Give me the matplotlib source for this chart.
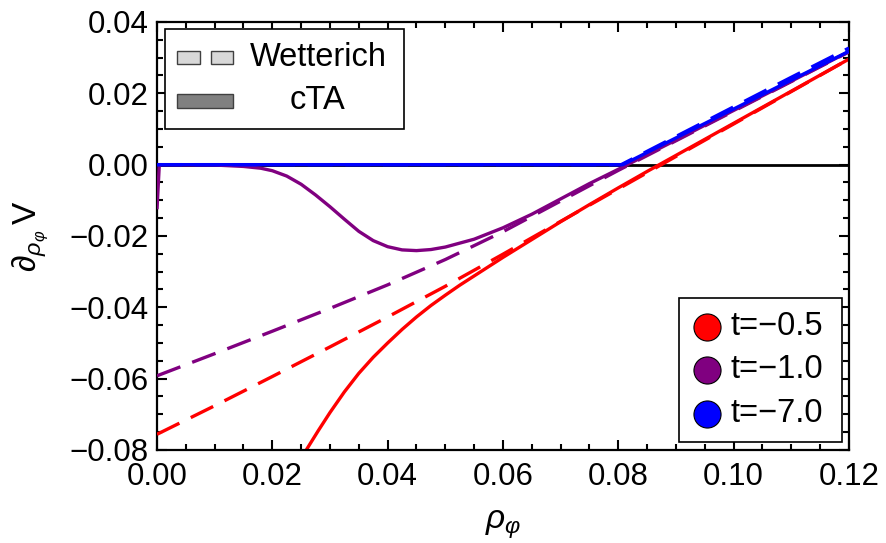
import matplotlib
matplotlib.use("Agg")
import matplotlib.pyplot as plt
from matplotlib.lines import Line2D
from matplotlib.patches import Rectangle
from matplotlib.ticker import MultipleLocator, FixedLocator, FixedFormatter

plt.rcParams['font.family'] = ['Liberation Sans', 'DejaVu Sans']
plt.rcParams['mathtext.fontset'] = 'custom'
plt.rcParams['mathtext.rm'] = 'Liberation Sans'
plt.rcParams['mathtext.it'] = 'Liberation Sans:italic'
plt.rcParams['mathtext.bf'] = 'Liberation Sans:bold'

# ---- data: derivative of the potential vs rho_phi ----
# Wetterich (dashed)
x_w_red = [0.0, 0.01, 0.02, 0.03, 0.04, 0.05, 0.06, 0.07, 0.08, 0.09, 0.10, 0.11, 0.12]
y_w_red = [-0.0756, -0.0676, -0.0594, -0.0511, -0.0427, -0.0341, -0.0251, -0.0159,
           -0.0068, 0.0023, 0.0114, 0.0205, 0.0296]
x_w_purple = [0.0, 0.01, 0.02, 0.03, 0.04, 0.05, 0.06, 0.07, 0.08, 0.09, 0.10, 0.11, 0.12]
y_w_purple = [-0.0592, -0.0530, -0.0467, -0.0403, -0.0337, -0.0266, -0.0188, -0.0102,
              -0.0016, 0.0067, 0.0150, 0.0233, 0.0316]
x_w_blue = [0.0, 0.0805, 0.09, 0.10, 0.11, 0.12]
y_w_blue = [0.0, 0.0, 0.0079, 0.0162, 0.0245, 0.0327]

# cTA (solid)
x_c_red = [0.024, 0.026, 0.028, 0.030, 0.0325, 0.035, 0.0375, 0.040, 0.0425, 0.045,
           0.0475, 0.050, 0.0525, 0.055, 0.0575, 0.060, 0.065, 0.070, 0.075, 0.080,
           0.085, 0.090, 0.10, 0.11, 0.12]
y_c_red = [-0.0856, -0.0797, -0.0745, -0.0695, -0.0637, -0.0585, -0.0540, -0.0500,
           -0.0462, -0.0427, -0.0395, -0.0366, -0.0338, -0.0312, -0.0286, -0.0260,
           -0.0210, -0.0160, -0.0112, -0.0065, -0.0019, 0.0026, 0.0116, 0.0206, 0.0296]
x_c_purple = [0.0, 0.0004, 0.010, 0.015, 0.018, 0.020, 0.0225, 0.025, 0.0275, 0.030,
              0.0325, 0.035, 0.0375, 0.040, 0.0425, 0.045, 0.0475, 0.050, 0.055,
              0.060, 0.065, 0.070, 0.075, 0.080, 0.090, 0.10, 0.11, 0.12]
y_c_purple = [-0.0125, 0.0, -0.0001, -0.0005, -0.0010, -0.0017, -0.0032, -0.0055,
              -0.0085, -0.0118, -0.0153, -0.0187, -0.0213, -0.0230, -0.0239, -0.0241,
              -0.0238, -0.0231, -0.0209, -0.0177, -0.0139, -0.0096, -0.0053, -0.0013,
              0.0069, 0.0152, 0.0234, 0.0317]
x_c_blue = [0.0, 0.0808, 0.09, 0.10, 0.11, 0.12]
y_c_blue = [0.0, 0.0, 0.0075, 0.0156, 0.0237, 0.0318]

series_labels = ["t=\u22120.5", "t=\u22121.0", "t=\u22127.0"]
series_colors = ["#ff0000", "#800080", "#0000ff"]
method_labels = ["Wetterich", "cTA"]

x_ticks = [0.00, 0.02, 0.04, 0.06, 0.08, 0.10, 0.12]
y_ticks = [-0.08, -0.06, -0.04, -0.02, 0.00, 0.02, 0.04]

# ---- figure ----
fig = plt.figure(figsize=(8.86, 5.43), dpi=100)
ax = fig.add_axes([0.1772, 0.1713, 0.7810, 0.7882])
ax.set_xlim(0, 0.12)
ax.set_ylim(-0.08, 0.04)

ax.axhline(0, color="black", lw=2.0, zorder=1)

lw = 2.4
dash = (7.5, 3.8)
solids = [(x_c_red, y_c_red), (x_c_purple, y_c_purple), (x_c_blue, y_c_blue)]
dashed = [(x_w_red, y_w_red), (x_w_purple, y_w_purple), (x_w_blue, y_w_blue)]
for i, c in enumerate(series_colors):
    ax.plot(*solids[i], color=c, lw=lw, zorder=2 + 2 * i, solid_capstyle="butt",
            solid_joinstyle="round")
    ax.plot(*dashed[i], color=c, lw=lw, dashes=dash, zorder=3 + 2 * i,
            dash_capstyle="butt")

# ticks
fmt = lambda v: f"{v:.2f}".replace("-", "\u2212")
ax.xaxis.set_major_locator(FixedLocator(x_ticks))
ax.xaxis.set_major_formatter(FixedFormatter([fmt(v) for v in x_ticks]))
ax.yaxis.set_major_locator(FixedLocator(y_ticks))
ax.yaxis.set_major_formatter(FixedFormatter([fmt(v) for v in y_ticks]))
ax.xaxis.set_minor_locator(MultipleLocator(0.005))
ax.yaxis.set_minor_locator(MultipleLocator(0.005))
ax.tick_params(which="both", direction="in", top=True, right=True, width=1.5,
               color="black")
ax.tick_params(which="major", length=7.5)
ax.tick_params(which="minor", length=4)
ax.tick_params(axis="x", labelsize=22.5, pad=9)
ax.tick_params(axis="y", labelsize=22.5, pad=6)
for s in ax.spines.values():
    s.set_linewidth(1.6)

ax.set_xlabel(r"$\rho_{\varphi}$", fontsize=24)
ax.xaxis.set_label_coords(0.5, -0.175)
ax.xaxis.label.set_va("center")
ax.set_ylabel(r"$\partial_{\rho_{\varphi}}\,\mathrm{V}$", fontsize=24)
ax.yaxis.set_label_coords(-0.183, 0.5)
ax.yaxis.label.set_va("center")

# ---- method legend (top left) ----
T = ax.transAxes
ax.add_patch(Rectangle((0.0116, 0.750), 0.345, 0.2336, transform=T, fc="white",
                       ec="black", lw=1.2, zorder=20))
sw_h = 13 / 428
for x0, w in [(177, 23), (211, 22)]:
    ax.add_patch(Rectangle(((x0 - 157) / 692, (450 - 64) / 428), w / 692, sw_h,
                           transform=T, fc="#d8d8d8", ec="#404040", lw=1.0, zorder=21))
ax.add_patch(Rectangle(((177 - 157) / 692, (450 - 108) / 428), 56 / 692, 14 / 428,
                       transform=T, fc="#808080", ec="#404040", lw=1.0, zorder=21))
ax.text((318 - 157) / 692, (450 - 58) / 428, method_labels[0], transform=T,
        ha="center", va="center", fontsize=23.5, zorder=22)
ax.text((318 - 157) / 692, (450 - 101) / 428, method_labels[1], transform=T,
        ha="center", va="center", fontsize=23.5, zorder=22)

# ---- temperature legend (bottom right) ----
ax.add_patch(Rectangle(((679 - 157) / 692, (450 - 442) / 428), 163 / 692, 144 / 428,
                       transform=T, fc="white", ec="black", lw=1.2, zorder=20))
for yc, lab, c in zip([327, 370, 414], series_labels, series_colors):
    ya = (450 - yc) / 428
    ax.add_line(Line2D([(707 - 157) / 692], [ya], transform=T, marker="o",
                       markersize=19.5, markerfacecolor=c, markeredgecolor="black",
                       markeredgewidth=0.8, ls="none", zorder=21))
    ax.text((731 - 157) / 692, ya, lab, transform=T, ha="left", va="center",
            fontsize=23.5, zorder=22)

fig.savefig("out.png", dpi=100)
